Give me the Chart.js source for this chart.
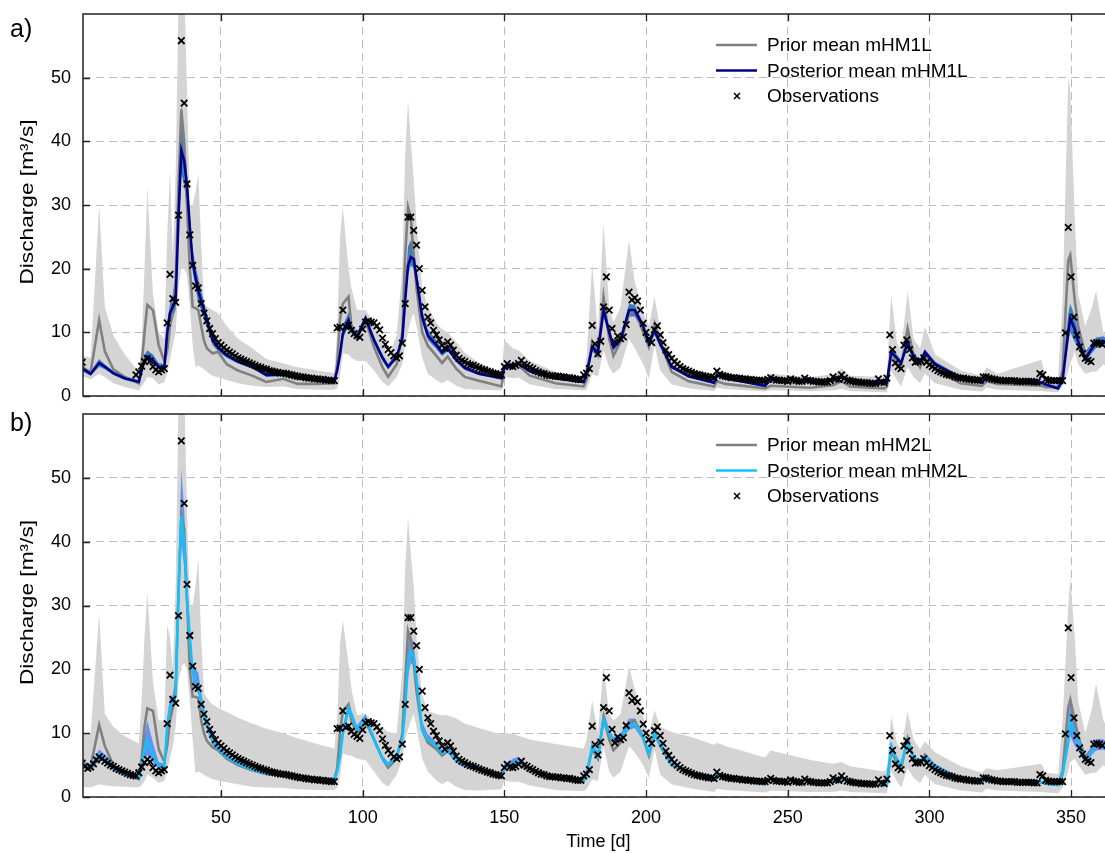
<!DOCTYPE html>
<html lang="en">
<head>
<meta charset="UTF-8">
<title>Discharge - prior and posterior mHM1L / mHM2L</title>
<style>
  body { margin: 0; background: #fff; overflow: hidden; }
  #wrap { position: relative; width: 1105px; height: 853px; overflow: hidden; }
  canvas { position: absolute; left: 0; }
  #chartA { top: 0; }
  #chartB { top: 405px; }
</style>
</head>
<body>
<div id="wrap">
  <canvas id="chartA" width="1120" height="405"></canvas>
  <canvas id="chartB" width="1120" height="448"></canvas>
</div>

<script src="https://cdn.jsdelivr.net/npm/chart.js"></script>
<script>
// ---- axis ticks ----
const xTickValues = [50, 100, 150, 200, 250, 300, 350];
const yTickValues = [0, 10, 20, 30, 40, 50];

const keyDays = [1,4,7,9,12,16,21,22,23,24,26,28,30,31,32,33,34,35,36,37,
  38,39,40,41,42,43,44,45,47,49,52,56,61,66,72,77,84,90,
  91,92,93,95,96,98,101,104,107,109,112,114,115,116,117,118,119,121,123,126,
  128,130,133,136,141,149,150,153,155,159,168,178,
  179,181,183,185,187,188.5,191,194,196,199,201,203,205,209,215,224,225,228,242,244,
  258,266,269,272,284,
  285,286.5,288.5,290,292.3,294.4,296.7,298.4,302,311,318.5,320.2,324,339.5,341,345.4,347,349,349.7,351.3,
  352.5,355,357.4,358.8,361.4,364];

// ---- panel a) mHM1L ----
const priorA = [4.3,3.8,11.9,7.0,4.2,3.0,2.0,5.0,10,14.3,13.5,8,5.5,7,11,13,18,33,45,40,
  30,20,14,13.8,13.5,11,8.7,7.5,6.7,6.9,5.0,4.0,3.2,2.2,2.7,1.9,1.9,2.0,
  5,12,14.5,15.6,11,9,11.9,7.7,4.5,3.0,5.0,10,22,29.7,28,22,17,10,7.9,6.3,
  5.2,6.2,4.3,3.0,2.4,1.5,4.4,4.6,4.8,3.2,2.0,1.5,
  2.5,8.5,6.5,15.6,9,6.3,8.5,12.9,13.5,10,7.7,11.4,8.5,3.8,2.3,1.5,2.3,1.9,1.2,1.6,
  1.3,1.7,2.3,1.5,1.2,
  1.5,6.6,5.3,4.5,10.6,6.5,4.5,6.4,4.2,2.0,1.6,2.3,1.9,1.6,1.4,1.4,4,21.3,22.1,15,
  11,6.5,7.5,8.5,8.5,7.5];
const postA = [4.3,3.5,5.2,4.6,3.6,2.8,2.2,4.0,5.5,6.2,5.6,4.6,4.3,10,13,14,15,28,38.6,37,
  33,26.5,21,18.7,16.5,15,13.5,12.0,8.8,7.6,6.4,5.4,4.6,3.3,3.4,2.8,2.5,2.4,
  4,6.5,9.8,11.9,10.5,9.3,12.2,8.8,6.0,4.6,6.2,9,15,20.5,21.8,21.5,18.5,12.4,9.5,8.0,
  6.8,7.5,5.7,4.4,3.5,2.8,4.6,4.8,5.1,3.9,2.8,2.2,
  3.5,7.7,6.8,13.5,10,7.7,8.8,13.5,13.5,10.9,8.3,10.3,8.2,4.6,3.1,2.1,3.3,2.8,1.6,2.7,
  2.3,2.6,2.9,2.3,2.0,
  2.1,6.9,6.0,5.2,8.3,6.2,5.3,6.9,5.0,2.9,2.1,3.0,2.5,2.1,1.8,1.2,2.5,10,12.2,10.5,
  8.5,5.9,7.5,8.3,8.6,7.8];
const grayLoA = [3.1,2.6,3.5,3.0,2.0,1.4,0.9,1.5,2.2,3.0,2.8,1.8,2.2,3.5,5.8,8,10,17,20,20,
  19,14,8,4.6,4.8,4.5,4.2,3.8,3.2,2.9,2.5,2.0,1.6,1.4,1.5,1.1,1.0,1.0,
  1.2,3,6.7,6.5,6.0,5.5,5.5,4,2.2,1.5,3,5,8,10,12,13,11,6,3.5,2.5,
  2,2.5,1.6,1.1,1.0,0.9,3.0,2.8,2.9,1.8,1.1,0.9,
  1.0,3.5,3,7.2,4.5,3.5,4.5,9,7.5,5,2.7,8,4,1.8,1.2,0.8,1.3,1.1,0.7,0.9,
  0.8,0.9,1.1,0.8,0.6,
  0.6,4,2.5,1.5,4.5,3,2.0,3.5,2.0,1.0,0.7,1.3,1.0,0.8,0.7,0.6,1.5,3.8,5,7,
  5,3.5,3.8,3.8,5,4];
const grayHiA = [6.3,6.0,30,14,9.5,6.5,3.8,8,20,32.8,16,10,9,25,35.4,22,35,62,65,65,
  48,30,30,32,34.9,24,14.5,14,13.5,13,11,9,7.5,5.8,5.1,4.5,4.0,3.6,
  10,25,29.7,20,17,13.5,13.5,11.5,8.5,6.2,9.5,20,38,46.4,40,34,27,17,14,11.5,
  10.5,10,8.5,6.8,5.2,3.5,8.8,7.5,7.2,5.5,3.8,3.0,
  6,20.8,10,27.1,14,11.5,14,24.5,18,13,11,15.6,10.5,6.5,4.3,3.2,4.3,3.7,2.6,3.5,
  3.0,3.4,4.3,3.2,3.0,
  3.5,15.9,8.5,7,16.5,9,7.5,10.9,6.5,4.0,3.2,4.5,3.5,5.7,3.0,3.0,15,50,48,28,
  16,11,14,16.5,10,9];
const blueLoA = [3.9,3.2,4.6,4.2,3.3,2.5,2.0,3.6,5.0,5.5,5.0,4.1,4.0,8.5,11.5,12.5,13.5,25,35,33,
  30,24.5,19.5,17,14.5,13.5,12,10.8,8,7,6.0,5.1,4.3,3.0,3.1,2.6,2.3,2.2,
  3.5,6,9,11,9.8,8.8,11.6,8.2,5.5,4.2,5.8,8.3,14,19,20.5,20,17.5,11.5,8.8,7.4,
  6.3,7.0,5.3,4.1,3.3,2.6,4.3,4.5,4.8,3.6,2.6,2.0,
  3.2,7.0,6.0,12.5,9.3,7.1,8.2,12.5,12.5,10.2,7.7,9.6,7.6,4.3,2.9,1.9,3.0,2.6,1.4,2.5,
  2.1,2.4,2.7,2.1,1.8,
  1.9,6.3,5.5,4.8,7.7,5.7,4.9,6.4,4.6,2.7,1.9,2.8,2.3,1.9,1.6,1.0,2,8.5,10,8.5,
  7.5,5.2,6.8,7.5,7.8,7];
const blueHiA = [4.8,3.9,5.8,5.0,3.9,3.1,2.5,4.5,6.5,7.2,6.5,5.2,5.0,11.5,14.5,16,19,33,46,41,
  35,28.5,23,20.5,18.5,16.5,14.8,13,9.8,8.3,6.9,5.8,4.9,3.6,3.7,3.0,2.7,2.6,
  4.5,7.5,11,13.2,11.5,9.9,12.8,9.4,6.5,5.0,6.8,10,17,23.5,24.5,23.5,20,13.5,10.4,8.8,
  7.4,8.1,6.2,4.8,3.8,3.0,4.9,5.1,5.5,4.2,3.0,2.4,
  3.9,8.5,7.6,14.5,10.8,8.3,9.4,14.5,14.3,11.5,8.9,11,8.8,5.0,3.4,2.3,3.6,3.0,1.8,2.9,
  2.5,2.8,3.1,2.5,2.2,
  2.3,7.5,6.5,5.6,9.0,6.7,5.7,7.4,5.4,3.1,2.3,3.2,2.7,2.3,2.0,1.5,4,13,14.5,12.5,
  10,7,8.3,9.2,9.4,8.6];

// ---- panel b) mHM2L ----
const priorB = [5.5,4.8,11.3,8,5.0,3.7,2.8,6,11,13.9,13.5,7.5,5.5,8,12,14,17,32,44,42,
  31,20,15.7,15.7,15.5,12,10,8.8,7.8,7.3,6.0,5.0,4.2,3.6,3.5,3.1,3.0,2.8,
  4.5,10,13.5,14.5,12,10,11.8,9,6,4.6,6,10,18,26,24.5,21,16.5,10.5,8.5,7.5,
  6.5,7.2,5.8,5.0,4.3,3.4,4.6,5.0,5.5,4.0,3.0,2.5,
  3.5,7.5,6,12.5,9,7.3,8.5,11.5,12,9.2,6.5,10,8,5.0,3.7,2.8,3.2,3.0,2.2,2.8,
  2.4,2.4,2.8,2.3,1.9,
  2.1,7.2,5.3,4.5,9.2,6.2,5.0,6.6,4.6,2.9,2.3,3.0,2.6,2.3,2.1,2.0,4,14,15.2,12,
  9.5,6.2,7.5,8.5,8.3,7.5];
const postB = [5.3,4.5,6.6,6.0,4.6,3.7,2.9,5,7.5,8.9,6.5,4.8,4.6,11,14.2,14.5,16,32,44,40,
  31,25,19.5,18.5,17.5,14.8,13.1,11.5,8.9,7.5,6.3,5.2,4.3,3.7,3.5,3.2,3.0,2.7,
  4,6.3,10,13.9,12.8,10.5,12.3,9,6.0,5.0,6.5,9,14,21,22.8,22,18.5,10.5,9.0,8.0,
  6.8,7.3,5.8,5.0,4.5,3.2,4.7,5.3,5.7,4.2,2.9,2.6,
  3.5,7.9,6.3,12.1,10,8.9,9.3,11.0,11.5,9.3,6.8,10,8.3,5.2,3.8,2.7,3.3,3.0,2.0,2.8,
  2.4,2.5,2.9,2.4,1.9,
  2.0,7.9,5.8,5.0,8.7,6.2,5.3,6.3,4.8,2.8,2.3,3.0,2.6,2.3,2.1,1.9,3.5,8.9,12.1,10,
  8.9,5.7,7.3,8.1,8.1,7.5];
const grayLoB = [1.6,1.5,2.0,1.8,1.7,1.6,1.5,1.8,2.5,3.5,3,2.2,2.5,4,6,8,11,18,20.4,21,
  20,15,9,3.7,4,3.8,3.5,3.2,2.8,2.6,2.3,2.0,1.6,1.5,1.4,1.2,1.1,1.1,
  1.5,3,6.8,6.5,6.5,6,5.8,4,2.2,1.6,3.5,6,9,10.5,12,13,11,6,4,2.6,
  2,2.5,1.6,1.1,1.0,1.2,2.5,2.4,2.4,1.8,1.1,0.9,
  1.2,2.8,2.5,7.9,4,3,4,8,7,5,3,7.5,3.5,2.0,1.4,0.8,1.3,1.1,0.7,1.0,
  0.8,0.8,1.0,0.8,0.6,
  0.6,4,2.5,1.5,4.5,3,2.2,3.5,2.0,1.0,0.7,1.3,1.0,0.8,0.7,0.6,1.5,4,5.5,6,
  5,3.5,3.8,3.8,5,4];
const grayHiB = [10,10,28.8,13,11,9.5,8.4,15,25,32.2,18,12,12,27,25,20,33,62,65,65,
  45,29.8,30,33,37.4,25,16.3,15.5,14.5,14,13.3,12.4,11.5,10.7,10,9.2,8.3,7.6,
  12,24,27.7,21,17,12.8,13,11.8,10.8,10.2,10,20,36,43.9,38,33,25,16,13.5,13,
  12.8,12.8,12.3,11.5,10.8,9.8,10,9.9,9.6,9.0,8.3,7.6,
  9,15.2,10,20.4,13,12,13,20.4,17,12.5,10,13.6,11,10.2,9.5,8.2,8.5,8.0,6.2,7.3,
  5.8,5.2,5.5,4.8,4.0,
  4.5,12.6,8.5,7.5,13.4,9,7.5,8.7,7,4.8,3.8,4.5,4.2,5.2,3.8,3.6,12,30,34.5,25,
  15,10,14,17.8,12,10];
const blueLoB = [4.6,4.0,5.8,5.4,4.1,3.3,2.6,4.5,6,6.5,5.5,4.3,4.2,10,13,13.5,15,29,40,36,
  28.5,23,18,17,16,13.8,12,10.5,8.2,7,5.9,4.8,4.0,3.4,3.2,2.9,2.8,2.5,
  3.6,5.8,9.3,13,12,10,11.7,8.5,5.6,4.6,6.1,8.4,13,19,21,20.5,17.5,10,8.5,7.5,
  6.3,6.9,5.4,4.6,4.1,2.9,4.3,4.9,5.2,3.9,2.7,2.4,
  3.2,7.3,5.8,11.3,9.4,8.4,8.8,10.5,10.8,8.8,6.3,9.5,7.8,4.9,3.5,2.5,3.1,2.8,1.8,2.6,
  2.2,2.3,2.7,2.2,1.7,
  1.8,7.3,5.3,4.6,8.1,5.8,4.9,5.9,4.5,2.6,2.1,2.8,2.4,2.1,1.9,1.7,3,7.5,9.5,8,
  7.5,5.0,6.6,7.3,7.4,6.8];
const blueHiB = [5.8,5.0,7.5,6.7,5.1,4.1,3.2,6,9.5,12,8.5,5.5,5.2,12,15.5,16,19,36,51.4,45,
  34,27,21,20,19.5,16.5,14,12.5,9.6,8.1,6.8,5.6,4.6,4.0,3.8,3.4,3.2,2.9,
  4.4,7,11,15,13.6,11.2,13,9.6,6.5,5.4,7,10,16,24,25.5,24,20,11.8,9.8,8.6,
  7.4,7.9,6.3,5.4,4.9,3.5,5.2,6.0,6.3,4.6,3.2,2.9,
  3.9,8.6,7,13.5,10.6,9.4,9.9,12.3,12.3,9.9,7.3,10.6,8.8,5.6,4.0,2.9,3.6,3.2,2.2,3.0,
  2.6,2.7,3.1,2.6,2.1,
  2.2,8.7,6.3,5.4,9.4,6.6,5.7,6.9,5.2,3.0,2.5,3.2,2.8,2.5,2.3,2.1,4.5,11,16.3,12.5,
  10,6.5,8.0,9.1,9,8.2];

// ---- observations (same gauge in both panels) ----
// days 1..19: only day 1 is plotted in panel a, all of them in panel b
const obsEarly = [5.3,4.8,4.5,4.7,5.2,5.8,6.3,6.0,5.6,5.3,5.0,4.8,4.5,4.3,4.1,3.9,3.7,3.5,3.4];
const obsFirstDay = 20;
const obsMain = [
  3.3,3.8,4.7,5.4,5.9,5.5,4.6,4.1,3.8,4.1,
  4.3,11.5,19.1,15.3,14.7,28.4,55.8,46.0,33.3,25.3,
  20.5,17.3,17.0,14.5,13.0,11.8,10.6,9.8,9.0,8.4,
  8.0,7.6,7.2,6.9,6.6,6.3,6.0,5.8,5.6,5.4,
  5.2,5.0,4.8,4.6,4.5,4.3,4.2,4.0,3.9,3.8,
  3.7,3.6,3.6,3.5,3.4,3.3,3.2,3.1,3.0,3.0,
  2.9,2.8,2.8,2.7,2.7,2.6,2.6,2.5,2.5,2.4,
  2.4,10.7,10.8,13.5,10.9,11.1,10.3,9.8,9.5,9.2,
  10.5,11.6,11.8,11.6,11.5,11.0,10.4,9.1,8.1,7.3,
  6.8,6.3,6.0,6.3,8.3,14.5,28.1,28.1,26.0,23.7,
  20.0,16.6,14.0,12.4,11.5,10.3,9.6,8.8,8.0,7.5,
  8.5,8.0,7.2,6.4,5.9,5.6,5.4,5.1,4.9,4.8,
  4.6,4.4,4.2,4.1,3.9,3.8,3.6,3.5,3.4,3.3,
  4.6,5.1,4.7,4.6,4.8,5.1,5.6,5.0,4.8,4.5,
  4.3,4.0,3.8,3.6,3.5,3.3,3.2,3.2,3.1,3.1,
  3.0,3.0,2.9,2.9,2.8,2.7,2.6,2.6,3.3,3.6,
  4.3,11.1,8.2,6.6,8.6,14.0,18.7,13.5,10.6,8.5,
  9.4,9.0,9.3,11.2,16.3,15.1,15.4,14.9,13.5,11.4,
  10.0,9.0,8.4,10.4,11.0,9.6,8.4,7.2,6.5,5.9,
  5.4,5.0,4.6,4.3,4.1,3.9,3.7,3.5,3.4,3.3,
  3.2,3.1,3.0,3.0,2.9,3.9,3.4,3.2,3.1,3.0,
  2.9,2.9,2.8,2.8,2.7,2.7,2.6,2.6,2.5,2.5,
  2.5,2.4,2.4,2.6,2.9,2.6,2.5,2.5,2.4,2.4,
  2.3,2.7,2.5,2.4,2.3,2.3,2.8,2.5,2.4,2.3,
  2.3,2.2,2.2,2.2,2.2,2.4,3.0,2.7,2.6,3.3,
  2.8,2.5,2.4,2.3,2.2,2.2,2.1,2.1,2.1,2.0,
  2.0,2.0,2.7,2.2,2.1,2.8,9.6,7.3,5.2,4.6,
  4.3,8.0,8.8,7.3,6.0,5.3,5.4,5.5,6.0,5.3,
  4.9,4.6,4.3,4.0,3.8,3.6,3.4,3.3,3.2,3.0,
  2.9,2.8,2.8,2.7,2.6,2.6,2.5,2.5,2.5,3.0,
  3.0,2.8,2.7,2.6,2.5,2.5,2.4,2.4,2.4,2.4,
  2.4,2.3,2.3,2.3,2.3,2.3,2.3,2.2,2.2,3.5,
  3.3,2.6,2.5,2.4,2.4,2.4,2.4,2.4,9.9,26.5,
  18.7,12.4,9.6,7.7,6.7,5.9,5.6,5.4,8.3,8.4,
  8.3,8.1];

const FONT = 'Liberation Sans, Arial, Helvetica, sans-serif';
const Y_TITLE = 'Discharge [m³/s]';

function pts(vals) {
  return keyDays.map((d, i) => ({ x: d, y: vals[i] }));
}

// frame, inward ticks, y title, legend and panel letter
const decorPlugin = {
  id: 'decor',
  afterDraw(chart, args, opts) {
    const { ctx, chartArea: ca, scales } = chart;
    ctx.save();
    ctx.strokeStyle = '#222';
    ctx.lineWidth = 1.5;
    ctx.strokeRect(ca.left, ca.top, ca.right - ca.left, ca.bottom - ca.top);
    ctx.lineWidth = 1.3;
    ctx.beginPath();
    xTickValues.forEach(v => {
      const px = Math.round(scales.x.getPixelForValue(v)) + 0.5;
      ctx.moveTo(px, ca.bottom); ctx.lineTo(px, ca.bottom - 7);
      ctx.moveTo(px, ca.top); ctx.lineTo(px, ca.top + 7);
    });
    yTickValues.forEach(v => {
      const py = Math.round(scales.y.getPixelForValue(v)) + 0.5;
      ctx.moveTo(ca.left, py); ctx.lineTo(ca.left + 7, py);
    });
    ctx.stroke();

    // y axis title (figure text is a little stretched vertically)
    ctx.save();
    ctx.translate(28, (ca.top + ca.bottom) / 2 - 3);
    ctx.rotate(-Math.PI / 2);
    ctx.scale(1.26, 1);
    ctx.font = '18px ' + FONT;
    ctx.fillStyle = '#000';
    ctx.textAlign = 'center';
    ctx.textBaseline = 'middle';
    ctx.fillText(Y_TITLE, 0, 0);
    ctx.restore();

    // legend
    const items = chart.data.datasets.filter(d => d.legendRow !== undefined)
      .sort((a, b) => a.legendRow - b.legendRow);
    ctx.font = '19px ' + FONT;
    ctx.textBaseline = 'middle';
    ctx.fillStyle = '#000';
    items.forEach((d, i) => {
      const y = ca.top + 31 + i * 25.5;
      const x0 = ca.left + 633;
      if (d.showLine === false) {
        ctx.strokeStyle = '#000';
        ctx.lineWidth = 1.6;
        ctx.beginPath();
        ctx.moveTo(x0 + 18, y - 3); ctx.lineTo(x0 + 24, y + 3);
        ctx.moveTo(x0 + 18, y + 3); ctx.lineTo(x0 + 24, y - 3);
        ctx.stroke();
      } else {
        ctx.strokeStyle = d.borderColor;
        ctx.lineWidth = 2.5;
        ctx.beginPath();
        ctx.moveTo(x0, y); ctx.lineTo(x0 + 41, y);
        ctx.stroke();
      }
      ctx.fillText(d.label, x0 + 51, y + 1);
    });

    // panel letter
    ctx.font = '25px ' + FONT;
    ctx.textBaseline = 'alphabetic';
    ctx.fillText(opts.letter, 10, ca.top + opts.letterDy);
    ctx.restore();
  }
};

function makePanel(id, cfg) {
  const obs = [{ x: 1, y: obsEarly[0] }];
  if (cfg.allEarlyObs) {
    for (let i = 1; i < obsEarly.length; i++) obs.push({ x: i + 1, y: obsEarly[i] });
  }
  obsMain.forEach((v, i) => obs.push({ x: obsFirstDay + i, y: v }));

  const gridCol = '#bdbdbd';
  return new Chart(document.getElementById(id), {
    type: 'line',
    data: {
      datasets: [
        { label: 'Observations', data: obs, showLine: false, legendRow: 2, order: 0,
          pointStyle: 'crossRot', pointRadius: 4.6, pointBorderWidth: 1.8,
          pointBorderColor: '#000', borderColor: '#000' },
        { label: cfg.postLabel, data: pts(cfg.post), legendRow: 1, order: 1,
          borderColor: cfg.postColor, borderWidth: 2.6, pointRadius: 0 },
        { label: cfg.priorLabel, data: pts(cfg.prior), legendRow: 0, order: 2,
          borderColor: '#808080', borderWidth: 2.6, pointRadius: 0 },
        { label: 'post hi', data: pts(cfg.blueHi), order: 3, fill: '+1',
          backgroundColor: cfg.bandColor, borderColor: 'rgba(0,0,0,0)', pointRadius: 0 },
        { label: 'post lo', data: pts(cfg.blueLo), order: 4, fill: false,
          borderColor: 'rgba(0,0,0,0)', pointRadius: 0 },
        { label: 'prior hi', data: pts(cfg.grayHi), order: 5, fill: '+1',
          backgroundColor: '#d4d4d4', borderColor: 'rgba(0,0,0,0)', pointRadius: 0 },
        { label: 'prior lo', data: pts(cfg.grayLo), order: 6, fill: false,
          borderColor: 'rgba(0,0,0,0)', pointRadius: 0 }
      ]
    },
    options: {
      responsive: false,
      animation: false,
      devicePixelRatio: 1,
      layout: { padding: cfg.padding },
      elements: { line: { tension: 0 } },
      plugins: {
        legend: { display: false },
        tooltip: { enabled: false },
        decor: { letter: cfg.letter, letterDy: cfg.letterDy }
      },
      scales: {
        x: {
          type: 'linear', min: 1.3, max: 365,
          afterBuildTicks: s => { s.ticks = xTickValues.map(v => ({ value: v })); },
          afterFit: s => {
            s.height = cfg.showX ? 56 : 0;
            s.paddingLeft = 0; s.paddingRight = 0;
          },
          grid: { color: gridCol, lineWidth: 1, drawTicks: false },
          border: { display: false, dash: [8, 5] },
          ticks: { display: cfg.showX, color: '#000', padding: 10, maxRotation: 0,
                   font: { family: FONT, size: 18 } },
          title: { display: cfg.showX, text: 'Time [d]', color: '#000',
                   padding: { top: 0, bottom: 0 }, font: { family: FONT, size: 18 } }
        },
        y: {
          min: 0, max: 60,
          afterBuildTicks: s => { s.ticks = yTickValues.map(v => ({ value: v })); },
          afterFit: s => {
            s.width = 83;
            s.paddingTop = 0; s.paddingBottom = 0;
          },
          grid: { color: gridCol, lineWidth: 1, drawTicks: false },
          border: { display: false, dash: [8, 5] },
          ticks: { color: '#000', padding: 12, font: { family: FONT, size: 18 } },
          title: { display: false }
        }
      }
    },
    plugins: [decorPlugin]
  });
}

makePanel('chartA', {
  letter: 'a)', letterDy: 23, showX: false, allEarlyObs: false,
  padding: { top: 14, right: 4, bottom: 9, left: 0 },
  prior: priorA, post: postA, grayLo: grayLoA, grayHi: grayHiA, blueLo: blueLoA, blueHi: blueHiA,
  priorLabel: 'Prior mean mHM1L', postLabel: 'Posterior mean mHM1L',
  postColor: '#00008b', bandColor: 'rgb(62,126,192)'
});

makePanel('chartB', {
  letter: 'b)', letterDy: 17, showX: true, allEarlyObs: true,
  padding: { top: 9, right: 4, bottom: 0, left: 0 },
  prior: priorB, post: postB, grayLo: grayLoB, grayHi: grayHiB, blueLo: blueLoB, blueHi: blueHiB,
  priorLabel: 'Prior mean mHM2L', postLabel: 'Posterior mean mHM2L',
  postColor: '#14c0fa', bandColor: 'rgb(104,144,238)'
});
</script>
</body>
</html>
